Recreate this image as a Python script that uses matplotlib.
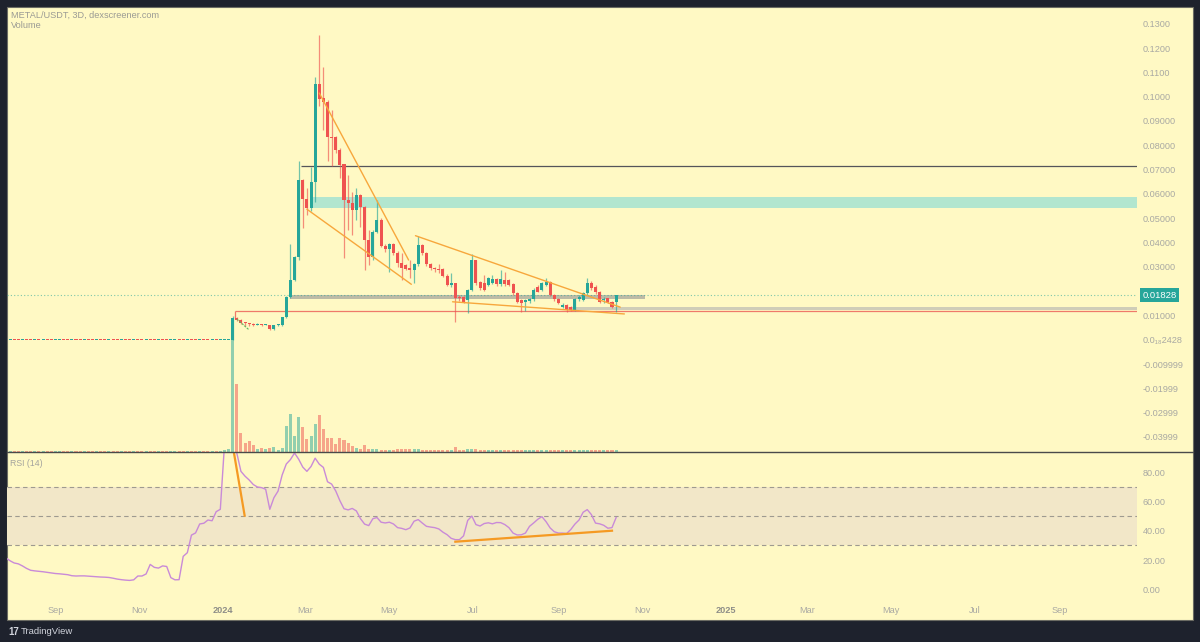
import matplotlib
matplotlib.use("Agg")
import matplotlib.pyplot as plt
import matplotlib.dates as mdates
import matplotlib.transforms as mtransforms
from matplotlib.patches import Rectangle
from matplotlib.lines import Line2D
import numpy as np
import pandas as pd

# ---------------- data ----------------
main_start = "2024-01-08"          # first traded 3D candle
pre_end = "2024-01-05"             # last pre-launch (near-zero) candle
pre_price = 2.428e-20
pre_dirs = "dudduddudud" "duudduddudd" "uddudduddud" "duddudduudd" "uddudduduuu"
pre_volume = [1.0, 1.2, 1.0, 1.0, 1.2, 1.0, 1.0, 1.0, 1.2, 1.0, 1.0,
              1.0, 1.2, 1.0, 1.0, 1.0, 1.2, 1.0, 1.0, 1.0, 1.0, 1.2,
              1.0, 1.0, 1.2, 1.0, 1.0, 1.0, 1.0, 1.2, 1.0, 1.0, 1.0,
              1.2, 1.0, 1.0, 1.0, 1.2, 1.0, 1.0, 1.0, 1.0, 1.0, 1.2,
              1.0, 1.0, 1.2, 1.0, 1.0, 1.0, 1.2, 1.0, 1.5, 2.5, 3.0]

open_ = [0.0000, 0.0089, 0.0083, 0.0072, 0.0068, 0.0065, 0.0062, 0.0064, 0.0062, 0.0060,
         0.0042, 0.0059, 0.0061, 0.0092, 0.0177, 0.0246, 0.0339, 0.0657, 0.0579, 0.0541,
         0.0650, 0.1052, 0.0993, 0.0979, 0.0833, 0.0833, 0.0781, 0.0722, 0.0575, 0.0563,
         0.0534, 0.0595, 0.0547, 0.0410, 0.0339, 0.0444, 0.0493, 0.0387, 0.0372, 0.0394,
         0.0358, 0.0314, 0.0307, 0.0294, 0.0287, 0.0310, 0.0390, 0.0356, 0.0310, 0.0294,
         0.0292, 0.0290, 0.0263, 0.0225, 0.0232, 0.0177, 0.0175, 0.0163, 0.0205, 0.0328,
         0.0239, 0.0232, 0.0225, 0.0232, 0.0250, 0.0228, 0.0246, 0.0246, 0.0228, 0.0191,
         0.0163, 0.0156, 0.0160, 0.0166, 0.0218, 0.0205, 0.0225, 0.0239, 0.0184, 0.0166,
         0.0136, 0.0143, 0.0136, 0.0122, 0.0166, 0.0163, 0.0191, 0.0232, 0.0218, 0.0198,
         0.0163, 0.0170, 0.0154, 0.0154]
high = [0.0098, 0.0095, 0.0086, 0.0074, 0.0070, 0.0068, 0.0067, 0.0066, 0.0066, 0.0062,
        0.0060, 0.0064, 0.0095, 0.0180, 0.0394, 0.0345, 0.0735, 0.0660, 0.0624, 0.0712,
        0.1082, 0.1254, 0.1123, 0.0985, 0.0945, 0.0840, 0.0790, 0.0725, 0.0678, 0.0609,
        0.0623, 0.0600, 0.0550, 0.0451, 0.0450, 0.0575, 0.0500, 0.0395, 0.0400, 0.0400,
        0.0365, 0.0356, 0.0312, 0.0328, 0.0315, 0.0427, 0.0395, 0.0360, 0.0315, 0.0300,
        0.0310, 0.0294, 0.0270, 0.0274, 0.0235, 0.0185, 0.0178, 0.0208, 0.0353, 0.0330,
        0.0240, 0.0266, 0.0258, 0.0266, 0.0255, 0.0287, 0.0280, 0.0250, 0.0232, 0.0195,
        0.0166, 0.0166, 0.0170, 0.0212, 0.0225, 0.0236, 0.0253, 0.0242, 0.0188, 0.0170,
        0.0150, 0.0146, 0.0140, 0.0170, 0.0184, 0.0198, 0.0253, 0.0240, 0.0225, 0.0200,
        0.0175, 0.0172, 0.0158, 0.0185]
low = [0.0000, 0.0078, 0.0066, 0.0058, 0.0055, 0.0058, 0.0059, 0.0058, 0.0059, 0.0040,
       0.0040, 0.0055, 0.0058, 0.0088, 0.0170, 0.0240, 0.0330, 0.0460, 0.0513, 0.0530,
       0.0568, 0.0960, 0.0863, 0.0735, 0.0716, 0.0770, 0.0665, 0.0336, 0.0451, 0.0431,
       0.0493, 0.0465, 0.0287, 0.0307, 0.0330, 0.0440, 0.0380, 0.0360, 0.0280, 0.0350,
       0.0300, 0.0246, 0.0285, 0.0253, 0.0232, 0.0305, 0.0350, 0.0305, 0.0285, 0.0280,
       0.0275, 0.0260, 0.0220, 0.0215, 0.0074, 0.0160, 0.0150, 0.0111, 0.0200, 0.0225,
       0.0205, 0.0200, 0.0220, 0.0228, 0.0222, 0.0222, 0.0222, 0.0220, 0.0185, 0.0150,
       0.0115, 0.0120, 0.0150, 0.0160, 0.0195, 0.0200, 0.0220, 0.0180, 0.0160, 0.0145,
       0.0130, 0.0115, 0.0118, 0.0118, 0.0160, 0.0160, 0.0185, 0.0205, 0.0190, 0.0150,
       0.0150, 0.0150, 0.0130, 0.0115]
close = [0.0089, 0.0081, 0.0070, 0.0067, 0.0063, 0.0062, 0.0064, 0.0062, 0.0063, 0.0042,
         0.0059, 0.0061, 0.0092, 0.0177, 0.0246, 0.0339, 0.0657, 0.0579, 0.0541, 0.0650,
         0.1052, 0.0990, 0.0979, 0.0833, 0.0828, 0.0781, 0.0719, 0.0575, 0.0563, 0.0534,
         0.0595, 0.0547, 0.0410, 0.0339, 0.0444, 0.0493, 0.0387, 0.0372, 0.0394, 0.0358,
         0.0314, 0.0294, 0.0290, 0.0287, 0.0310, 0.0390, 0.0356, 0.0310, 0.0294, 0.0290,
         0.0288, 0.0263, 0.0225, 0.0232, 0.0170, 0.0172, 0.0156, 0.0205, 0.0328, 0.0232,
         0.0212, 0.0205, 0.0253, 0.0250, 0.0228, 0.0250, 0.0228, 0.0225, 0.0191, 0.0156,
         0.0150, 0.0163, 0.0166, 0.0205, 0.0198, 0.0232, 0.0239, 0.0184, 0.0166, 0.0150,
         0.0143, 0.0122, 0.0122, 0.0166, 0.0177, 0.0191, 0.0232, 0.0212, 0.0198, 0.0156,
         0.0166, 0.0156, 0.0136, 0.01828]
volume = [111.6, 68.0, 19.0, 9.0, 11.0, 6.6, 3.0, 3.7, 3.3, 4.0,
          4.7, 2.0, 3.7, 25.7, 38.0, 16.3, 35.0, 25.3, 13.0, 16.0,
          28.3, 37.3, 23.0, 14.0, 14.0, 8.3, 14.0, 12.3, 9.0, 5.7,
          4.0, 3.0, 7.3, 3.3, 3.3, 3.3, 2.2, 2.0, 2.4, 2.0,
          2.8, 2.8, 2.6, 2.6, 3.0, 3.2, 2.0, 1.8, 1.8, 1.6,
          1.6, 1.8, 2.0, 1.8, 5.0, 2.0, 1.8, 2.6, 2.8, 2.6,
          2.2, 1.6, 1.6, 1.8, 1.6, 2.0, 1.6, 1.8, 2.0, 2.2,
          1.8, 1.6, 1.8, 1.6, 1.8, 1.6, 1.8, 1.6, 1.6, 1.8,
          2.0, 1.8, 1.8, 1.8, 1.8, 2.0, 2.4, 2.0, 2.2, 1.8,
          1.8, 1.6, 1.6, 1.8]
pre_rsi = [21.5, 19.5, 18.0, 17.4, 16.0, 14.3, 13.0, 12.6, 12.3, 12.0, 11.6, 11.2, 10.8, 10.6,
           10.3, 10.0, 9.3, 9.1, 9.2, 9.2, 9.0, 8.8, 8.6, 8.4, 8.3, 8.1, 7.6, 7.0, 6.6, 6.3,
           6.1, 6.5, 9.1, 9.1, 10.5, 17.0, 15.0, 14.5, 16.0, 15.6, 8.0, 6.5, 6.6, 22.5, 25.0,
           37.0, 38.5, 44.6, 45.1, 47.3, 46.8, 53.0, 54.6, 98.0, 99.0]
rsi = [99.0, 93.0, 80.5, 77.2, 74.6, 71.5, 69.8, 69.4, 68.3, 54.6,
       62.5, 67.0, 78.0, 85.5, 88.5, 93.0, 88.8, 83.4, 80.5, 83.8,
       89.5, 85.4, 83.2, 73.4, 71.8, 67.1, 60.5, 55.0, 54.2, 55.2,
       53.5, 48.2, 44.5, 43.5, 48.2, 49.0, 45.8, 45.3, 45.8, 44.6,
       42.1, 41.6, 40.7, 41.9, 46.5, 47.6, 45.2, 43.0, 42.5, 42.1,
       41.2, 39.0, 37.3, 34.8, 33.9, 33.9, 36.5, 47.0, 50.0, 44.2,
       43.2, 44.9, 45.4, 44.7, 45.6, 45.5, 44.2, 42.1, 38.4, 37.1,
       37.2, 38.4, 43.0, 45.3, 47.8, 49.6, 46.2, 41.9, 39.3, 38.4,
       38.4, 38.1, 40.8, 44.5, 47.3, 52.6, 54.4, 51.0, 45.2, 44.7,
       43.7, 41.7, 42.1, 49.0]

last_price = 0.01828
resistance_level = 0.0713
zone_top, zone_bottom = 0.0588, 0.0544
gray_band = (0.0166, 0.0184)
gray_band2 = (0.0122, 0.0135)
support_level = 0.0117

# trendlines (date, value) pairs
wedge_upper = [("2024-03-11", 0.1015), ("2024-05-15", 0.0328)]
wedge_lower = [("2024-03-02", 0.0537), ("2024-05-17", 0.0228)]
tri_upper = [("2024-05-20", 0.0428), ("2024-10-16", 0.0134)]
tri_lower = [("2024-06-16", 0.0156), ("2024-10-19", 0.0106)]
small_green = [("2024-01-11", 0.0085), ("2024-01-20", 0.0040)]
rsi_div1 = [("2024-01-08 14:00", 95.0), ("2024-01-16 17:00", 50.3)]
rsi_div2 = [("2024-06-18", 32.5), ("2024-10-10", 40.0)]

# the 0.02000 label is hidden behind the last-price tag in the reference
price_ticks = [0.13, 0.12, 0.11, 0.10, 0.09, 0.08, 0.07, 0.06, 0.05, 0.04, 0.03,
               0.01, 0.0, -0.01, -0.02, -0.03, -0.04]
price_labels = ["0.1300", "0.1200", "0.1100", "0.1000", "0.09000", "0.08000", "0.07000",
                "0.06000", "0.05000", "0.04000", "0.03000", "0.01000",
                "0.0\u2081\u20882428", "-0.009999", "-0.01999", "-0.02999", "-0.03999"]
rsi_ticks = [0, 20, 40, 60, 80]
rsi_labels = ["0.00", "20.00", "40.00", "60.00", "80.00"]
time_ticks = ["2023-09-01", "2023-11-01", "2024-01-01", "2024-03-01", "2024-05-01",
              "2024-07-01", "2024-09-01", "2024-11-01", "2025-01-01", "2025-03-01",
              "2025-05-01", "2025-07-01", "2025-09-01"]
time_labels = ["Sep", "Nov", "2024", "Mar", "May", "Jul", "Sep", "Nov", "2025", "Mar",
               "May", "Jul", "Sep"]

# ---------------- style ----------------
plt.rcParams['font.family'] = ['Liberation Sans', 'DejaVu Sans']
BG = '#fff9c4'
DARK = '#1e222d'
UP = '#26a69a'
DOWN = '#ef5350'
TXT = '#a9a9a3'

W, H = 1200, 642
fig = plt.figure(figsize=(12, 6.42), dpi=100, facecolor=DARK)


def fbox(x0, y0, x1, y1):
    return [x0 / W, 1 - y1 / H, (x1 - x0) / W, (y1 - y0) / H]


fig.add_artist(Rectangle((7 / W, 1 - 620 / H), 1186 / W, 613 / H, transform=fig.transFigure,
                         facecolor=BG, edgecolor='#6b6b63', lw=0.8, zorder=0))

ax_v = fig.add_axes(fbox(7, 7, 1137, 452))
ax = fig.add_axes(fbox(7, 7, 1137, 452), sharex=ax_v)
ax_r = fig.add_axes(fbox(7, 452, 1137, 598), sharex=ax_v)
for a in (ax_v, ax, ax_r):
    a.set_facecolor('none')
    for s in a.spines.values():
        s.set_visible(False)

dates = pd.date_range(main_start, periods=len(close), freq='3D')
pre_dates = pd.date_range(end=pre_end, periods=len(pre_dirs), freq='3D')
xs = mdates.date2num(dates.to_pydatetime())
pxs = mdates.date2num(pre_dates.to_pydatetime())

def d2n(s):
    return mdates.date2num(pd.Timestamp(s).to_pydatetime())

ax_v.set_xlim(d2n("2023-07-27 19:00"), d2n("2025-10-27"))
BW = 2.2  # candle width in days

o = np.array(open_); h = np.array(high); l = np.array(low); c = np.array(close)
up = c >= o
cols = np.where(up, UP, DOWN)
min_body = 0.00042
body_bot = np.minimum(o, c)
body_h = np.maximum(np.abs(c - o), min_body)

# volume
pre_cols = [UP if d == 'u' else DOWN for d in pre_dirs]
ax_v.bar(pxs, pre_volume, width=BW, color=pre_cols, alpha=0.5, linewidth=0)
ax_v.bar(xs, volume, width=BW, color=cols, alpha=0.5, linewidth=0)
ax_v.set_ylim(0, 445)
ax_v.set_yticks([])
ax_v.tick_params(bottom=False, labelbottom=False)

# price pane
ax.set_ylim(-0.04621, 0.13691)
x_left, x_right = ax_v.get_xlim()
ax.add_patch(Rectangle((d2n("2024-03-05"), zone_bottom), x_right - d2n("2024-03-05"),
                       zone_top - zone_bottom, facecolor='#b2e6cf', edgecolor='none', zorder=1))
ax.add_patch(Rectangle((d2n("2024-02-19"), gray_band[0]), d2n("2024-11-03") - d2n("2024-02-19"),
                       gray_band[1] - gray_band[0], facecolor='#bdbba6', edgecolor='none', zorder=1))
ax.add_patch(Rectangle((d2n("2024-09-07"), gray_band2[0]), x_right - d2n("2024-09-07"),
                       gray_band2[1] - gray_band2[0], facecolor='#cfcdb8', edgecolor='none', zorder=1))
ax.hlines(resistance_level, d2n("2024-02-27"), x_right, color='#55555a', lw=0.9, zorder=2)
ax.hlines(support_level, d2n("2024-01-10"), x_right, color='#ef7a6a', lw=0.9, zorder=2)
ax.vlines(d2n("2024-01-10"), support_level, 0.0089, color='#ef7a6a', lw=0.9, zorder=2)
ax.axhline(last_price, color=UP, lw=0.8, ls=(0, (1, 2)), alpha=0.6, zorder=2)

# candles
ax.bar(pxs, [min_body] * len(pxs), bottom=pre_price, width=BW, color=pre_cols, linewidth=0, zorder=3)
ax.vlines(xs, l, h, colors=cols, lw=0.9, alpha=0.65, zorder=3)
ax.bar(xs, body_h, bottom=body_bot, width=BW, color=cols, linewidth=0, zorder=4)

def tl(a, pts, **kw):
    a.plot([d2n(p[0]) for p in pts], [p[1] for p in pts], **kw)

for pts in (wedge_upper, wedge_lower, tri_upper, tri_lower):
    tl(ax, pts, color='#f7a73c', lw=1.0, zorder=5, solid_capstyle='round')
tl(ax, small_green, color='#5cb85c', lw=0.8, ls=(0, (2, 1)), zorder=5)

ax.yaxis.tick_right()
ax.set_yticks(price_ticks)
ax.set_yticklabels(price_labels)
ax.tick_params(axis='y', length=0, pad=4.2, labelsize=6.6, labelcolor=TXT)
ax.tick_params(axis='x', bottom=False, labelbottom=False)

# last price label
trans = mtransforms.blended_transform_factory(ax.transAxes, ax.transData)
ax.text(1.0 + 5.5 / 1130, last_price, "0.01828", transform=trans, ha='left', va='center',
        fontsize=6.8, color='white', clip_on=False, zorder=10,
        bbox=dict(boxstyle='square,pad=0.28', fc=UP, ec='none'))

# RSI pane
ax_r.set_ylim(-5.9, 93.7)
ax_r.axhspan(30, 70, color='#f2e7c8', lw=0, zorder=0)
for lvl in (70, 50, 30):
    ax_r.axhline(lvl, color='#9e9a90', lw=0.8, ls=(0, (4, 3)), zorder=1)
ax_r.plot(np.concatenate([pxs, xs]), pre_rsi + rsi, color='#c98ad8', lw=1.0, zorder=3)
tl(ax_r, rsi_div1, color='#f59a23', lw=1.6, zorder=4)
tl(ax_r, rsi_div2, color='#f59a23', lw=1.6, zorder=4)
ax_r.yaxis.tick_right()
ax_r.set_yticks(rsi_ticks)
ax_r.set_yticklabels(rsi_labels)
ax_r.tick_params(axis='y', length=0, pad=4.2, labelsize=6.6, labelcolor=TXT)
ax_r.set_xticks([d2n(t) for t in time_ticks])
ax_r.set_xticklabels(time_labels)
ax_r.tick_params(axis='x', length=0, pad=6, labelsize=6.6, labelcolor=TXT)
for lab in ax_r.get_xticklabels():
    if lab.get_text() in ("2024", "2025"):
        lab.set_fontweight('bold')
        lab.set_color('#8e8e88')
ax_r.set_xlim(x_left, x_right)

# pane separator
fig.add_artist(Line2D([7 / W, 1193 / W], [1 - 452 / H] * 2, transform=fig.transFigure,
                      color='#4a4a4a', lw=1.0, zorder=5))

# header / labels
fig.text(11 / W, 1 - 15 / H, "METAL/USDT, 3D, dexscreener.com", fontsize=6.6,
         color='#9a9a94', va='center', ha='left')
fig.text(11 / W, 1 - 26 / H, "Volume", fontsize=6.6, color='#9a9a94', va='center', ha='left')
fig.text(10 / W, 1 - 463 / H, "RSI (14)", fontsize=6.3, color='#a4a49e', va='center', ha='left')
fig.text(8 / W, 1 - 632 / H, "17", fontsize=7, color='#d1d4dc', fontweight='bold',
         va='center', ha='left')
fig.text(21 / W, 1 - 632 / H, "TradingView", fontsize=6.8, color='#d1d4dc',
         va='center', ha='left')

fig.savefig("out.png", dpi=100, facecolor=DARK)
